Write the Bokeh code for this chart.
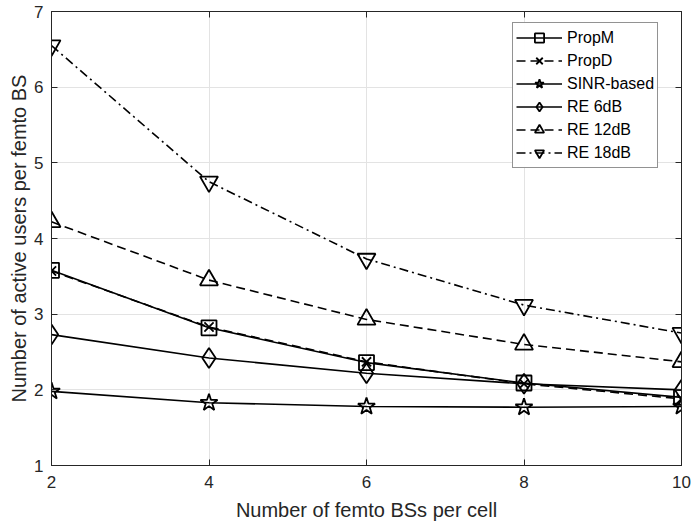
from bokeh.plotting import figure
from bokeh.models import (LinearAxis, Legend, LegendItem, FixedTicker, Range1d,
                          CustomJSTickFormatter)
from bokeh.embed import file_html
from bokeh.resources import INLINE

x_vals = [2, 4, 6, 8, 10]
y_ticks = [1, 2, 3, 4, 5, 6, 7]
prop_m = [3.58, 2.82, 2.36, 2.09, 1.90]
prop_d = [3.57, 2.83, 2.37, 2.08, 1.88]
sinr_based = [1.98, 1.83, 1.78, 1.77, 1.78]
re_6db = [2.73, 2.42, 2.22, 2.08, 2.00]
re_12db = [4.22, 3.45, 2.93, 2.60, 2.37]
re_18db = [6.55, 4.75, 3.73, 3.12, 2.75]

series = [
    ("PropM", prop_m, "solid", "square"),
    ("PropD", prop_d, "dashed", "x"),
    ("SINR-based", sinr_based, "solid", "star"),
    ("RE 6dB", re_6db, "solid", "diamond"),
    ("RE 12dB", re_12db, "dashed", "triangle"),
    ("RE 18dB", re_18db, "dashdot", "inverted_triangle"),
]
dash_map = {"solid": "solid", "dashed": "9 5", "dashdot": "9 4 2 4"}
size_map = {"square": 15, "x": 13, "star": 18, "diamond": 20,
            "triangle": 18, "inverted_triangle": 18}

FONT = "Liberation Sans"
TXT = "#262626"

p = figure(width=694, height=530, output_backend="svg", toolbar_location=None,
           x_range=Range1d(2, 10), y_range=Range1d(1, 7),
           min_border_left=51, min_border_right=13, min_border_top=11, min_border_bottom=65)
p.background_fill_color = "white"
p.outline_line_color = TXT
p.outline_line_width = 1

items = []
for name, ys, dash, marker in series:
    r1 = p.line(x_vals, ys, line_color="black", line_width=1.6, line_dash=dash_map[dash])
    r2 = p.scatter(x_vals, ys, marker=marker, size=size_map[marker], fill_color=None,
                   line_color="black", line_width=1.8)
    items.append(LegendItem(label=name, renderers=[r1, r2]))

for ax in [p.xaxis[0], p.yaxis[0]]:
    ax.major_label_text_font = FONT
    ax.major_label_text_font_size = "17px"
    ax.major_label_text_color = TXT
    ax.axis_label_text_font = FONT
    ax.axis_label_text_font_size = "20px"
    ax.axis_label_text_font_style = "normal"
    ax.axis_label_text_color = TXT
    ax.axis_line_color = TXT
    ax.major_tick_line_color = TXT
    ax.major_tick_in = 6
    ax.major_tick_out = 0
    ax.minor_tick_line_color = None

p.xaxis[0].ticker = FixedTicker(ticks=x_vals)
p.yaxis[0].ticker = FixedTicker(ticks=y_ticks)
p.xaxis[0].axis_label = "Number of femto BSs per cell"
p.yaxis[0].axis_label = "Number of active users per femto BS"
p.xaxis[0].major_label_standoff = 10
p.yaxis[0].major_label_standoff = 8
p.xaxis[0].axis_label_standoff = 8
p.yaxis[0].axis_label_standoff = 1

blank = CustomJSTickFormatter(code="return ''")
top = LinearAxis(ticker=FixedTicker(ticks=x_vals), formatter=blank,
                 major_label_standoff=0, major_tick_in=6, major_tick_out=0,
                 minor_tick_line_color=None, axis_line_color=TXT, major_tick_line_color=TXT)
right = LinearAxis(ticker=FixedTicker(ticks=y_ticks), formatter=blank,
                   major_label_standoff=0, major_tick_in=6, major_tick_out=0,
                   minor_tick_line_color=None, axis_line_color=TXT, major_tick_line_color=TXT)
p.add_layout(top, "above")
p.add_layout(right, "right")

p.xgrid.ticker = FixedTicker(ticks=x_vals)
p.ygrid.ticker = FixedTicker(ticks=y_ticks)
p.grid.grid_line_color = "#e3e3e3"
p.grid.grid_line_width = 1

legend = Legend(items=items, location=(461, 297))
legend.label_text_font = FONT
legend.label_text_font_size = "16px"
legend.label_text_color = "black"
legend.border_line_color = TXT
legend.border_line_width = 1
legend.glyph_width = 46
legend.glyph_height = 23
legend.label_height = 23
legend.spacing = 0
legend.padding = 3
legend.margin = 0
legend.label_standoff = 5
p.add_layout(legend, "center")

open("out.html", "w").write(file_html(p, INLINE))
